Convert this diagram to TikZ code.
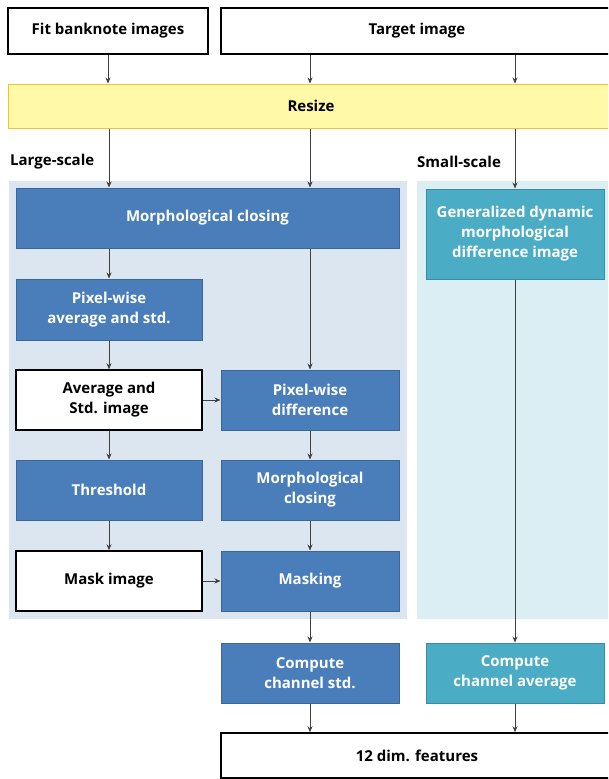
\documentclass[tikz,border=0pt]{standalone}
\usepackage{fontspec}
\setmainfont{Open Sans}
\usetikzlibrary{arrows.meta}
\definecolor{bluefill}{HTML}{4A7EBB}
\definecolor{blueline}{HTML}{3A6797}
\definecolor{tealfill}{HTML}{4BACC6}
\definecolor{tealline}{HTML}{3B8CA3}
\definecolor{lpanel}{HTML}{DCE6F1}
\definecolor{spanel}{HTML}{DAEEF3}
\definecolor{yfill}{HTML}{FFF9A8}
\definecolor{yline}{HTML}{F2C230}
\definecolor{conn}{HTML}{404040}
\tikzset{
  txt/.style={font=\fontsize{15}{20}\selectfont\bfseries, align=center, inner sep=0pt},
  whitebox/.style={txt, draw=black, line width=1.6pt, fill=white, text=black},
  bluebox/.style={txt, draw=blueline, line width=1pt, fill=bluefill, text=white},
  tealbox/.style={txt, draw=tealline, line width=1pt, fill=tealfill, text=white},
  yellowbox/.style={txt, draw=yline, line width=1pt, fill=yfill, text=black},
  panelbox/.style={draw=none, inner sep=0pt, anchor=north west},
  lbl/.style={txt, anchor=west, text=black},
  conn/.style={draw=conn, line width=0.7pt, -{Stealth[length=6pt,width=5pt]}}
}
\begin{document}
\begin{tikzpicture}[x=1pt,y=-1pt]
\useasboundingbox (0,0) rectangle (608,779);
\clip (0,0) rectangle (608,779);
% panels
\node[panelbox, fill=lpanel, minimum width=398pt, minimum height=438pt] (lp) at (9,181) {};
\node[panelbox, fill=spanel, minimum width=195pt, minimum height=438pt] (sp) at (417,181) {};
% top
\node[whitebox, minimum width=200pt, minimum height=46pt] (fit) at (108,31) {Fit banknote images};
\node[whitebox, minimum width=392pt, minimum height=46pt] (target) at (417,31) {Target image};
\node[yellowbox, minimum width=606pt, minimum height=44pt] (resize) at (311,106) {Resize};
\node[lbl] (ls) at (10,162) {Large-scale};
\node[lbl] (ss) at (417,162) {Small-scale};
% large scale
\node[bluebox, minimum width=383pt, minimum height=60pt] (morph1) at (207.5,218) {Morphological closing};
\node[bluebox, minimum width=186pt, minimum height=61pt] (pwavg) at (109,309.5) {Pixel-wise\\average and std.};
\node[whitebox, minimum width=186pt, minimum height=60pt] (avgstd) at (109,400) {Average and\\Std. image};
\node[bluebox, minimum width=178pt, minimum height=60pt] (pwdiff) at (310,400) {Pixel-wise\\difference};
\node[bluebox, minimum width=186pt, minimum height=60pt] (thresh) at (109,490) {Threshold};
\node[bluebox, minimum width=178pt, minimum height=60pt] (morph2) at (310,490) {Morphological\\closing};
\node[whitebox, minimum width=186pt, minimum height=60pt] (mask) at (109,581) {Mask image};
\node[bluebox, minimum width=178pt, minimum height=60pt] (masking) at (310,581) {Masking};
% small scale
\node[tealbox, minimum width=178pt, minimum height=90pt] (gen) at (515,234) {Generalized dynamic\\morphological\\difference image};
% bottom
\node[bluebox, minimum width=178pt, minimum height=60pt] (cstd) at (310,673) {Compute\\channel std.};
\node[tealbox, minimum width=178pt, minimum height=60pt] (cavg) at (515,673) {Compute\\channel average};
\node[whitebox, minimum width=392pt, minimum height=45pt] (feat) at (417,755.5) {12 dim. features};
% connectors
\draw[conn] (fit.south) -- (fit.south |- resize.north);
\draw[conn] (target.south -| pwdiff.north) -- (resize.north -| pwdiff.north);
\draw[conn] (target.south -| gen.north) -- (resize.north -| gen.north);
\draw[conn] (resize.south -| pwavg.north) -- (morph1.north -| pwavg.north);
\draw[conn] (resize.south -| pwdiff.north) -- (morph1.north -| pwdiff.north);
\draw[conn] (resize.south -| gen.north) -- (gen.north);
\draw[conn] (morph1.south -| pwavg.north) -- (pwavg.north);
\draw[conn] (morph1.south -| pwdiff.north) -- (pwdiff.north);
\draw[conn] (pwavg) -- (avgstd);
\draw[conn] (avgstd) -- (pwdiff);
\draw[conn] (avgstd) -- (thresh);
\draw[conn] (pwdiff) -- (morph2);
\draw[conn] (thresh) -- (mask);
\draw[conn] (morph2) -- (masking);
\draw[conn] (mask) -- (masking);
\draw[conn] (masking) -- (cstd);
\draw[conn] (gen) -- (cavg);
\draw[conn] (cstd.south) -- (cstd.south |- feat.north);
\draw[conn] (cavg.south) -- (cavg.south |- feat.north);
\end{tikzpicture}
\end{document}
